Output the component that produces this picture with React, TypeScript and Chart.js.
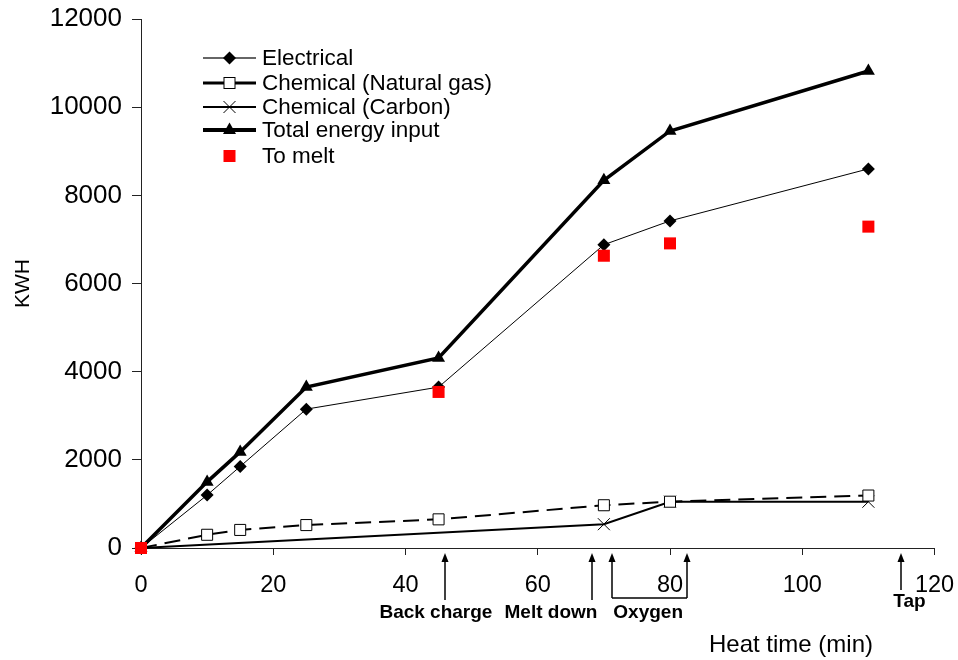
import React, { useEffect, useRef } from 'react';
import { Chart, registerables } from 'chart.js';

Chart.register(...registerables);

const FONT = '"Liberation Sans", Arial, Helvetica, sans-serif';

// ---- data ----
const heatTime = [0, 10, 15, 25, 45, 70, 80, 110];
const electrical = [0, 1200, 1850, 3150, 3650, 6880, 7420, 8600];
const naturalGas = [0, 300, 410, 520, 650, 970, 1050, 1190];
const totalInput = [0, 1500, 2180, 3650, 4310, 8340, 9460, 10820];
const carbonTime = [0, 70, 80, 110];
const carbon = [0, 540, 1050, 1050];
const meltTime = [0, 45, 70, 80, 110];
const toMelt = [0, 3540, 6630, 6910, 7290];

const seriesNames = [
  'Electrical',
  'Chemical (Natural gas)',
  'Chemical (Carbon)',
  'Total energy input',
  'To melt',
];

// phase annotations below the x axis (in minutes)
const backChargeAt = 45.9;
const meltDownAt = 68.2;
const oxygenStart = 71.3;
const oxygenEnd = 82.5;
const tapAt = 114.9;
const phaseLabels = ['Back charge', 'Melt down', 'Oxygen', 'Tap'];
const phaseLabelX = [44.6, 62.0, 76.7, 116.2];
const xTitle = 'Heat time (min)';
const xTitleAt = 98.3;
const yTitle = 'KWH';

const pts = (xs: number[], ys: number[]) => xs.map((x, i) => ({ x, y: ys[i] }));

function drawArrow(ctx: CanvasRenderingContext2D, px: number, yTop: number, yBottom: number) {
  ctx.beginPath();
  ctx.moveTo(px, yTop + 6);
  ctx.lineTo(px, yBottom);
  ctx.stroke();
  ctx.beginPath();
  ctx.moveTo(px, yTop);
  ctx.lineTo(px - 3.5, yTop + 9);
  ctx.lineTo(px + 3.5, yTop + 9);
  ctx.closePath();
  ctx.fill();
}

const decorPlugin = {
  id: 'decor',
  afterDraw(chart: any) {
    const ctx: CanvasRenderingContext2D = chart.ctx;
    const xs = chart.scales.x;
    const area = chart.chartArea;
    const base = area.bottom;
    ctx.save();
    ctx.strokeStyle = '#000';
    ctx.fillStyle = '#000';
    ctx.lineWidth = 1.5;

    // arrows
    drawArrow(ctx, Math.round(xs.getPixelForValue(backChargeAt)), base + 5, base + 52);
    drawArrow(ctx, Math.round(xs.getPixelForValue(meltDownAt)), base + 5, base + 52);
    const o1 = Math.round(xs.getPixelForValue(oxygenStart));
    const o2 = Math.round(xs.getPixelForValue(oxygenEnd));
    drawArrow(ctx, o1, base + 5, base + 50);
    drawArrow(ctx, o2, base + 5, base + 50);
    ctx.beginPath();
    ctx.moveTo(o1, base + 50);
    ctx.lineTo(o2, base + 50);
    ctx.stroke();
    drawArrow(ctx, Math.round(xs.getPixelForValue(tapAt)), base + 5, base + 42);

    // phase labels
    ctx.font = `bold 19px ${FONT}`;
    ctx.textAlign = 'center';
    ctx.textBaseline = 'middle';
    phaseLabels.forEach((t, i) => {
      const y = t === 'Tap' ? base + 54 : base + 65;
      ctx.fillText(t, xs.getPixelForValue(phaseLabelX[i]), y);
    });

    // axis titles
    ctx.font = `24px ${FONT}`;
    ctx.fillText(xTitle, xs.getPixelForValue(xTitleAt), base + 97);
    ctx.save();
    ctx.translate(23, (area.top + area.bottom) / 2);
    ctx.rotate(-Math.PI / 2);
    ctx.font = `21px ${FONT}`;
    ctx.fillText(yTitle, 0, 0);
    ctx.restore();

    // legend
    const rows = [58, 83, 107, 130, 156];
    const lx0 = 203, lx1 = 256, mx = 229.5, tx = 262;
    ctx.textAlign = 'left';
    ctx.font = `22.5px ${FONT}`;
    rows.forEach((ry, i) => {
      ctx.fillStyle = '#000';
      ctx.fillText(seriesNames[i], tx, ry + 1);
    });
    // Electrical
    ctx.strokeStyle = '#333';
    ctx.lineWidth = 1.5;
    ctx.beginPath(); ctx.moveTo(lx0, rows[0]); ctx.lineTo(lx1, rows[0]); ctx.stroke();
    ctx.fillStyle = '#000';
    ctx.beginPath();
    ctx.moveTo(mx, rows[0] - 6.5); ctx.lineTo(mx + 6.5, rows[0]); ctx.lineTo(mx, rows[0] + 6.5); ctx.lineTo(mx - 6.5, rows[0]);
    ctx.closePath(); ctx.fill();
    // Natural gas
    ctx.strokeStyle = '#000';
    ctx.lineWidth = 3;
    ctx.beginPath(); ctx.moveTo(lx0, rows[1]); ctx.lineTo(lx1, rows[1]); ctx.stroke();
    ctx.fillStyle = '#fff';
    ctx.lineWidth = 1;
    ctx.fillRect(mx - 5.5, rows[1] - 5.5, 11, 11);
    ctx.strokeRect(mx - 5.5, rows[1] - 5.5, 11, 11);
    // Carbon
    ctx.lineWidth = 2;
    ctx.beginPath(); ctx.moveTo(lx0, rows[2]); ctx.lineTo(lx1, rows[2]); ctx.stroke();
    ctx.lineWidth = 1;
    ctx.beginPath();
    ctx.moveTo(mx - 6, rows[2] - 6); ctx.lineTo(mx + 6, rows[2] + 6);
    ctx.moveTo(mx + 6, rows[2] - 6); ctx.lineTo(mx - 6, rows[2] + 6);
    ctx.stroke();
    // Total
    ctx.lineWidth = 4;
    ctx.beginPath(); ctx.moveTo(lx0, rows[3]); ctx.lineTo(lx1, rows[3]); ctx.stroke();
    ctx.fillStyle = '#000';
    ctx.beginPath();
    ctx.moveTo(mx, rows[3] - 7.5); ctx.lineTo(mx + 6.5, rows[3] + 4); ctx.lineTo(mx - 6.5, rows[3] + 4);
    ctx.closePath(); ctx.fill();
    // To melt
    ctx.fillStyle = '#ff0000';
    ctx.fillRect(mx - 6, rows[4] - 6, 12, 12);

    ctx.restore();
  },
};

export default function App() {
  const ref = useRef<HTMLCanvasElement>(null);

  useEffect(() => {
    if (!ref.current) return;
    const chart = new Chart(ref.current, {
      type: 'line',
      data: {
        datasets: [
          {
            label: seriesNames[4],
            data: pts(meltTime, toMelt),
            showLine: false,
            pointStyle: 'rect',
            pointRadius: 8.5,
            pointBackgroundColor: '#ff0000',
            pointBorderColor: '#ff0000',
            pointBorderWidth: 0,
            clip: false,
            order: 0,
          },
          {
            label: seriesNames[0],
            data: pts(heatTime, electrical),
            borderColor: '#000',
            borderWidth: 1,
            pointStyle: 'rectRot',
            pointRadius: 6.5,
            pointBackgroundColor: '#000',
            pointBorderColor: '#000',
            pointBorderWidth: 0,
            clip: false,
            order: 1,
          },
          {
            label: seriesNames[3],
            data: pts(heatTime, totalInput),
            borderColor: '#000',
            borderWidth: 3.5,
            pointStyle: 'triangle',
            pointRadius: 7.5,
            pointBackgroundColor: '#000',
            pointBorderColor: '#000',
            pointBorderWidth: 0,
            clip: false,
            order: 2,
          },
          {
            label: seriesNames[1],
            data: pts(heatTime, naturalGas),
            borderColor: '#000',
            borderWidth: 2,
            borderDash: [16, 8],
            pointStyle: 'rect',
            pointRadius: 7.8,
            pointBackgroundColor: '#fff',
            pointBorderColor: '#000',
            pointBorderWidth: 1,
            clip: false,
            order: 3,
          },
          {
            label: seriesNames[2],
            data: pts(carbonTime, carbon),
            borderColor: '#000',
            borderWidth: 2,
            pointStyle: 'crossRot',
            pointRadius: 8.5,
            pointBorderColor: '#000',
            pointBorderWidth: 1,
            clip: false,
            order: 4,
          },
        ],
      },
      options: {
        animation: false,
        responsive: false,
        maintainAspectRatio: false,
        layout: { padding: { left: 0, top: 19, right: 23.5, bottom: 0 } },
        plugins: {
          legend: { display: false },
          tooltip: { enabled: false },
        },
        scales: {
          x: {
            type: 'linear',
            min: 0,
            max: 120,
            ticks: {
              stepSize: 20,
              color: '#000',
              font: { family: FONT, size: 23.5 },
              padding: 16,
              maxRotation: 0,
              callback: (v: any) => String(v),
            },
            grid: { drawOnChartArea: false, drawTicks: true, tickLength: 7, color: '#222', lineWidth: 1 },
            border: { display: true, color: '#222', width: 1 },
            afterFit: (s: any) => { s.height = 112; s.paddingLeft = 0; s.paddingRight = 0; },
          },
          y: {
            type: 'linear',
            min: 0,
            max: 12000,
            ticks: {
              stepSize: 2000,
              color: '#000',
              font: { family: FONT, size: 26 },
              padding: 10,
              callback: (v: any) => String(v),
            },
            grid: { drawOnChartArea: false, drawTicks: true, tickLength: 9, color: '#222', lineWidth: 1 },
            border: { display: true, color: '#222', width: 1 },
            afterFit: (s: any) => { s.width = 141; s.paddingTop = 0; s.paddingBottom = 0; },
          },
        },
      },
      plugins: [decorPlugin],
    });
    return () => chart.destroy();
  }, []);

  return (
    <div style={{ position: 'fixed', left: 0, top: 0, width: 958, height: 660, background: '#fff' }}>
      <canvas ref={ref} width={958} height={660} style={{ display: 'block', width: 958, height: 660 }} />
    </div>
  );
}
